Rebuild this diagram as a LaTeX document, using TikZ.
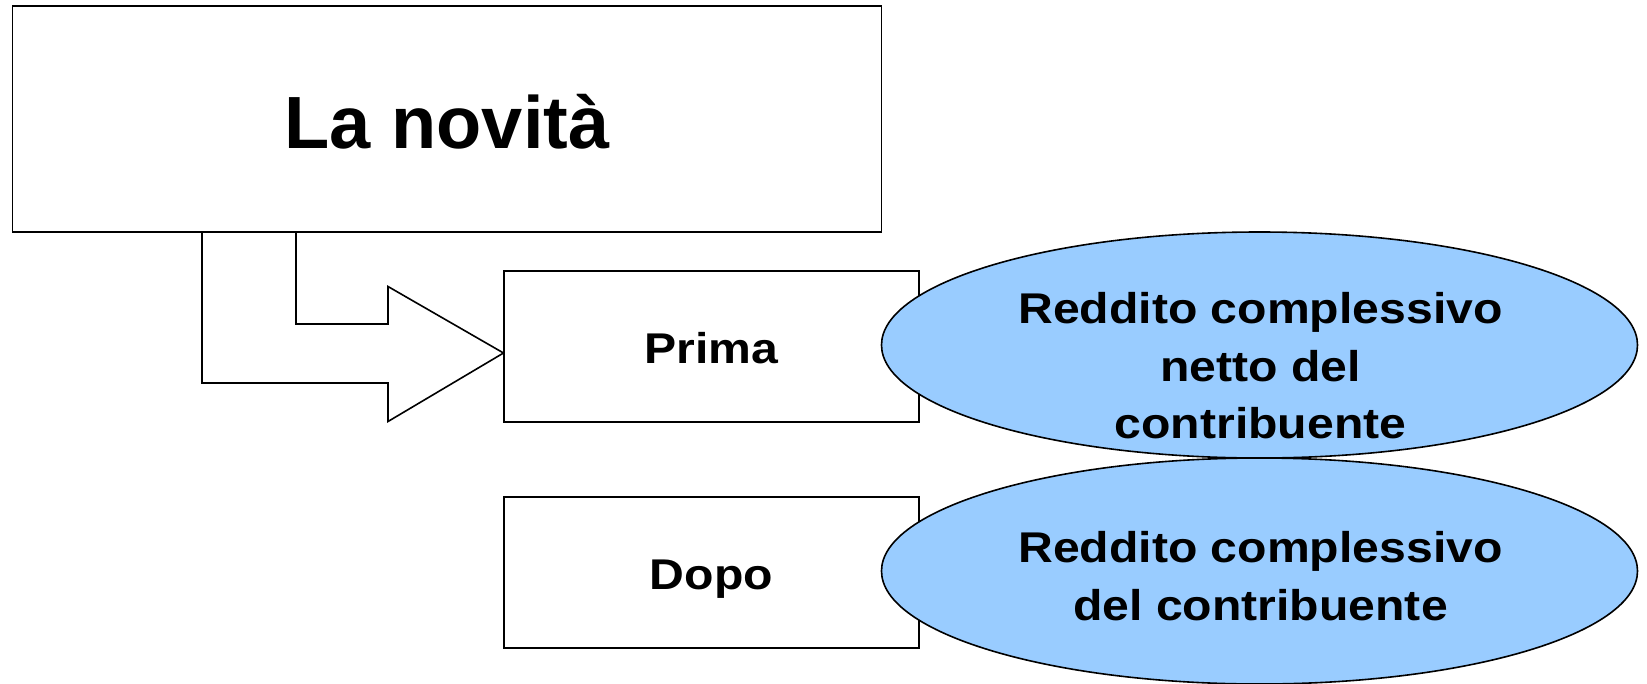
\documentclass[tikz,border=0pt]{standalone}
\usepackage{fontspec}
\setmainfont{Liberation Sans}
\newfontfamily\lblfont[FakeStretch=1.12]{Liberation Sans}
\usetikzlibrary{shapes.geometric}
\definecolor{ellblue}{HTML}{99CCFF}
\begin{document}
\begin{tikzpicture}[x=1pt,y=-1pt,
  box/.style={draw, line width=1.6pt, fill=white, inner sep=0pt, minimum width=415pt, minimum height=151pt, text depth=0pt},
  ell/.style={ellipse, draw, line width=1.6pt, fill=ellblue, inner sep=0pt, minimum width=756pt, minimum height=226pt},
  boxlbl/.style={font=\lblfont\bfseries\fontsize{43}{49}\selectfont},
  lbl/.style={inner sep=0pt, align=center, anchor=north, font=\lblfont\bfseries\fontsize{43}{57.3}\selectfont}]
\useasboundingbox (0,0) rectangle (1647,683);
% title box
\node[draw, line width=1.6pt, fill=white, inner sep=0pt, minimum width=869pt, minimum height=226pt,
      text height=58.6pt, text depth=0pt, font=\bfseries\fontsize{74}{88}\selectfont] (title) at (447,119) {La novità};
% bent arrow
\draw[line width=1.6pt, fill=white, line join=miter]
  (202,232) -- (296,232) -- (296,324) -- (388,324) -- (388,286.5) -- (503.5,353)
  -- (388,421.5) -- (388,383) -- (202,383) -- cycle;
% boxes
\node[box, boxlbl, text height=34pt] (prima) at (711.5,346.5) {Prima};
\node[box, boxlbl, text height=33pt] (dopo) at (711.5,572.5) {Dopo};
% ellipses
\node[ell] (e1) at (1259.5,345) {};
\node[ell] (e2) at (1259.5,571) {};
\node[lbl] (t1) at (1260.5,292.5) {Reddito complessivo\\netto del\\contribuente};
\node[lbl] (t2) at (1260.5,531.5) {Reddito complessivo\\del contribuente};
\end{tikzpicture}
\end{document}
